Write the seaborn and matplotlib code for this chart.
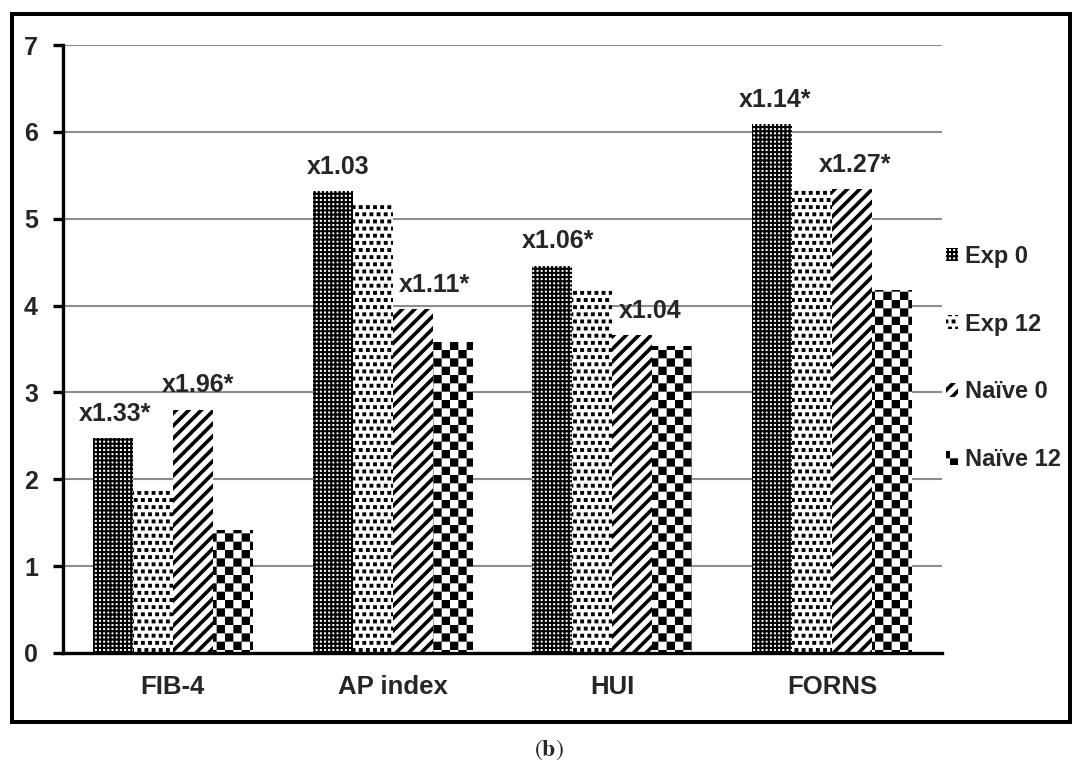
import warnings

import numpy as np
import pandas as pd
import matplotlib
matplotlib.use("Agg")
import matplotlib as mpl
import matplotlib.pyplot as plt
import matplotlib.hatch as mhatch
from matplotlib.path import Path
from matplotlib.patches import Rectangle
import seaborn as sns

warnings.filterwarnings("ignore", category=mpl.MatplotlibDeprecationWarning)

# ---- data -------------------------------------------------------------
categories = ["FIB-4", "AP index", "HUI", "FORNS"]
series_names = ["Exp 0", "Exp 12", "Naïve 0", "Naïve 12"]
exp_0 = [2.47, 5.32, 4.46, 6.09]
exp_12 = [1.86, 5.16, 4.20, 5.33]
naive_0 = [2.80, 3.96, 3.66, 5.34]
naive_12 = [1.42, 3.58, 3.54, 4.18]
exp_ratio_labels = ["x1.33*", "x1.03", "x1.06*", "x1.14*"]
naive_ratio_labels = ["x1.96*", "x1.11*", "x1.04", "x1.27*"]
y_ticks = [0, 1, 2, 3, 4, 5, 6, 7]

# ---- style --------------------------------------------------------------
sns.set_style("white")
plt.rcParams["font.family"] = ["Liberation Sans", "DejaVu Sans"]
plt.rcParams["mathtext.fontset"] = "stix"
plt.rcParams["hatch.linewidth"] = 1.5
plt.rcParams["hatch.color"] = "black"

HALF_STROKE = plt.rcParams["hatch.linewidth"] / 72 / 2


# ---- extra fill patterns (checkerboard, confetti, wide stripes) ----------
class PolygonHatch(mhatch.HatchPatternBase):
    key = None
    per_char = 6

    def __init__(self, hatch, density):
        count = hatch.count(self.key) if (self.key and hatch) else 0
        self.polys = self.polygons(count * self.per_char) if count else []
        self.num_vertices = sum(len(p) + 1 for p in self.polys)

    def polygons(self, n):
        return []

    def set_vertices_and_codes(self, vertices, codes):
        i = 0
        for p in self.polys:
            k = len(p)
            vertices[i:i + k] = p
            vertices[i + k] = p[0]
            codes[i] = Path.MOVETO
            codes[i + 1:i + k] = Path.LINETO
            codes[i + k] = Path.CLOSEPOLY
            i += k + 1


def square(cx, cy, h):
    return [(cx - h, cy - h), (cx + h, cy - h), (cx + h, cy + h), (cx - h, cy + h)]


class CheckerHatch(PolygonHatch):
    key = "c"
    per_char = 6

    def polygons(self, n):
        s = 1.0 / n
        h = s / 2 - HALF_STROKE
        return [square((i + 0.5) * s, (j + 0.5) * s, h)
                for i in range(n) for j in range(n) if (i + j) % 2 == 0]


class ConfettiHatch(PolygonHatch):
    key = "k"
    per_char = 7

    def polygons(self, n):
        s = 1.0 / n
        h = 0.009
        polys = []
        for r in range(n + 1):
            if r % 2 == 0:
                xs = [c * s for c in range(n + 1)]
            else:
                xs = [(c + 0.5) * s for c in range(n)]
            for x in xs:
                polys.append(square(x, r * s, h))
        return polys


class StripeHatch(PolygonHatch):
    key = "z"
    per_char = 8

    def polygons(self, n):
        w = 0.022
        polys = []
        for k in range(-2 * n, 2 * n + 1):
            y0 = k / n
            polys.append([(-0.5, y0 - 0.5), (1.5, y0 + 1.5),
                          (1.5, y0 + 1.5 + w), (-0.5, y0 - 0.5 + w)])
        return polys


mhatch._hatch_types.extend([CheckerHatch, ConfettiHatch, StripeHatch])

patterns = ["++++", "kk", "z", "cc"]

# ---- figure -------------------------------------------------------------
W, H = 1080, 764
fig = plt.figure(figsize=(W / 100, H / 100), dpi=100)
ax = fig.add_axes([63 / W, 1 - 653 / H, 879 / W, 608 / H])

df = pd.DataFrame({
    "index": np.tile(categories, len(series_names)),
    "series": np.repeat(series_names, len(categories)),
    "value": np.concatenate([exp_0, exp_12, naive_0, naive_12]),
})

sns.barplot(data=df, x="index", y="value", hue="series",
            order=categories, hue_order=series_names,
            palette=["white"] * 4, width=0.728, gap=0,
            linewidth=0, edgecolor="black", errorbar=None,
            legend=False, ax=ax)

for container, pat in zip(ax.containers, patterns):
    for bar in container:
        bar.set_hatch(pat)
        bar.set_edgecolor("black")
        bar.set_linewidth(0)

# axes
ax.set_xlim(-0.5, len(categories) - 0.5)
ax.set_ylim(0, 7)
ax.set_xlabel("")
ax.set_ylabel("")
ax.set_yticks(y_ticks)
ax.set_yticklabels([str(t) for t in y_ticks], fontsize=18, fontweight="bold")
ax.set_xticks(range(len(categories)))
ax.set_xticklabels(categories, fontsize=18.5, fontweight="bold")
ax.set_xticks(np.arange(-0.5, len(categories)), minor=True)
ax.tick_params(axis="x", which="major", length=0, pad=16)
ax.tick_params(axis="x", which="minor", length=7, width=2.4, direction="out",
               color="black")
ax.tick_params(axis="y", length=7, width=2.4, direction="out", pad=11,
               color="black", left=True)

for side in ("top", "right"):
    ax.spines[side].set_visible(False)
for side in ("left", "bottom"):
    ax.spines[side].set_linewidth(2.4)
    ax.spines[side].set_color("black")

ax.yaxis.grid(True, color="#8c8c8c", linewidth=1.5)
ax.xaxis.grid(False)
ax.set_axisbelow(True)

# ratio annotations over the baseline bars
exp_bars = ax.containers[0]
naive_bars = ax.containers[2]
exp_dx = [1.5, 4, 4, 2]
naive_dx = [3.5, 16, 13, 2]
for bars, labels, dxs in ((exp_bars, exp_ratio_labels, exp_dx),
                          (naive_bars, naive_ratio_labels, naive_dx)):
    for bar, lab, dx in zip(bars, labels, dxs):
        ax.annotate(lab, xy=(bar.get_x() + bar.get_width() / 2, bar.get_height()),
                    xytext=(dx, 12.5), textcoords="offset points",
                    ha="center", va="baseline", fontsize=18, fontweight="bold")

# legend
handles = [c.patches[0] for c in ax.containers]
ax.legend(handles, series_names, loc="center left",
          bbox_to_anchor=(946 / W, 1 - 358 / H), bbox_transform=fig.transFigure,
          frameon=False, prop={"weight": "bold", "size": 17},
          handlelength=0.5, handleheight=0.5, handletextpad=0.3,
          labelspacing=1.9, borderpad=0, borderaxespad=0)

# outer frame and panel tag
fig.add_artist(Rectangle((12 / W, 1 - 722 / H), (1070 - 12) / W, (722 - 14) / H,
                         transform=fig.transFigure, fill=False,
                         edgecolor="black", linewidth=2.9))
fig.text(549 / W, 1 - 750 / H, r"$(\mathbf{b})$", ha="center", va="center",
         fontsize=17)

fig.savefig("out.png", dpi=100)
